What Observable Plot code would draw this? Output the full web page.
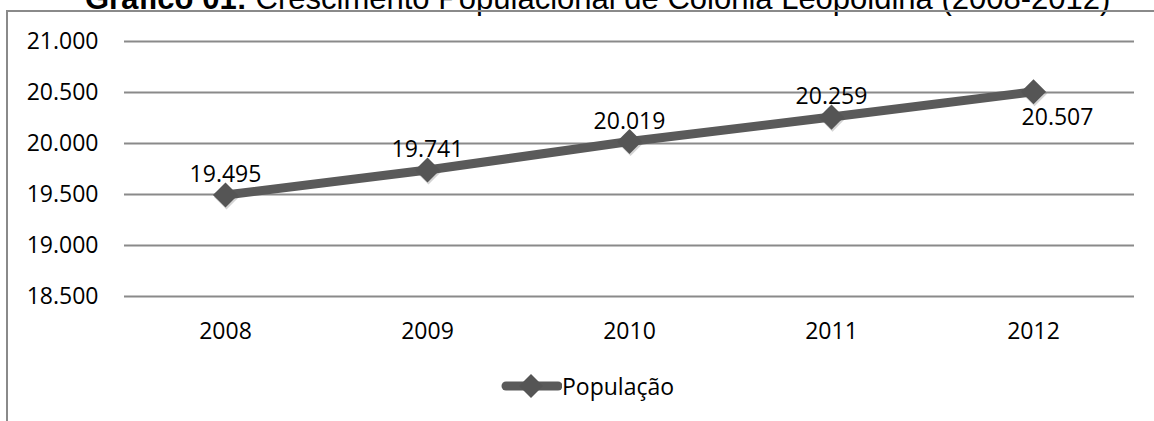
<!DOCTYPE html>
<html>
<head>
<meta charset="utf-8">
<script src="https://cdn.jsdelivr.net/npm/d3@7"></script>
<script src="https://cdn.jsdelivr.net/npm/@observablehq/plot@0.6"></script>
<style>
  html, body { margin: 0; padding: 0; background: #fff; overflow: hidden; }
  #wrap { position: relative; width: 1154px; height: 421px; overflow: hidden; }
  #title { position: absolute; left: 85px; top: -17px; font-family: "Liberation Sans", Arial, sans-serif; font-size: 31px; line-height: 31px; white-space: nowrap; color: #000; }
  #frame { position: absolute; left: 6px; top: 10px; width: 1200px; height: 500px; border-left: 2px solid #8a8a8a; border-top: 2px solid #8a8a8a; }
  #chart { position: absolute; left: 0; top: 0; }
  #legend { position: absolute; left: 500px; top: 370px; display: flex; align-items: center; font-family: "Open Sans", sans-serif; font-size: 23px; color: #000; }
</style>
</head>
<body>
<div id="wrap">
  <div id="title"><b>Gráfico 01:</b> Crescimento Populacional de Colônia Leopoldina (2008-2012)</div>
  <div id="frame"></div>
  <div id="chart"></div>
  <div id="legend"><svg width="62" height="30"><line x1="6" x2="58" y1="15" y2="15" stroke="#5a5a5a" stroke-width="9" stroke-linecap="round"/><path d="M31,3 L43,15 L31,27 L19,15 Z" fill="#555"/></svg><span>População</span></div>
</div>
<script>
const years = ["2008", "2009", "2010", "2011", "2012"];
const population = [19495, 19741, 20019, 20259, 20507];
const yTicks = [18500, 19000, 19500, 20000, 20500, 21000];
const seriesName = "População";

const data = years.map((y, i) => ({year: y, value: population[i], series: seriesName}));
const fmt = v => d3.format(",")(v).replace(/,/g, ".");

const plot = Plot.plot({
  width: 1154,
  height: 421,
  marginTop: 41,
  marginBottom: 125,
  marginLeft: 124,
  marginRight: 20,
  style: {fontFamily: "Open Sans, sans-serif", fontSize: "23px", color: "#000", background: "transparent"},
  x: {type: "point", domain: years, padding: 0.5, label: null, tickSize: 0, tickPadding: 26},
  y: {domain: [18500, 21000], ticks: yTicks, tickFormat: fmt, label: null, tickSize: 0, tickPadding: 26},
  marks: [
    Plot.ruleY(yTicks, {stroke: "#8a8a8a", strokeWidth: 2}),
    Plot.line(data, {x: "year", y: "value", stroke: "#5a5a5a", strokeWidth: 9}),
    Plot.dot(data, {x: "year", y: "value", symbol: "diamond2", r: 11.3, fill: "#555", stroke: "none", dx: 1, dy: 2, fillOpacity: 0.25}),
    Plot.dot(data, {x: "year", y: "value", symbol: "diamond2", r: 11.3, fill: "#555", stroke: "none"}),
    Plot.text(data.slice(0, 4), {x: "year", y: "value", text: d => fmt(d.value), dy: -20, fill: "#000", fontSize: 23}),
    Plot.text(data.slice(4), {x: "year", y: "value", text: d => fmt(d.value), dy: 26, dx: 24, fill: "#000", fontSize: 23})
  ]
});
document.getElementById("chart").appendChild(plot);
</script>
</body>
</html>
